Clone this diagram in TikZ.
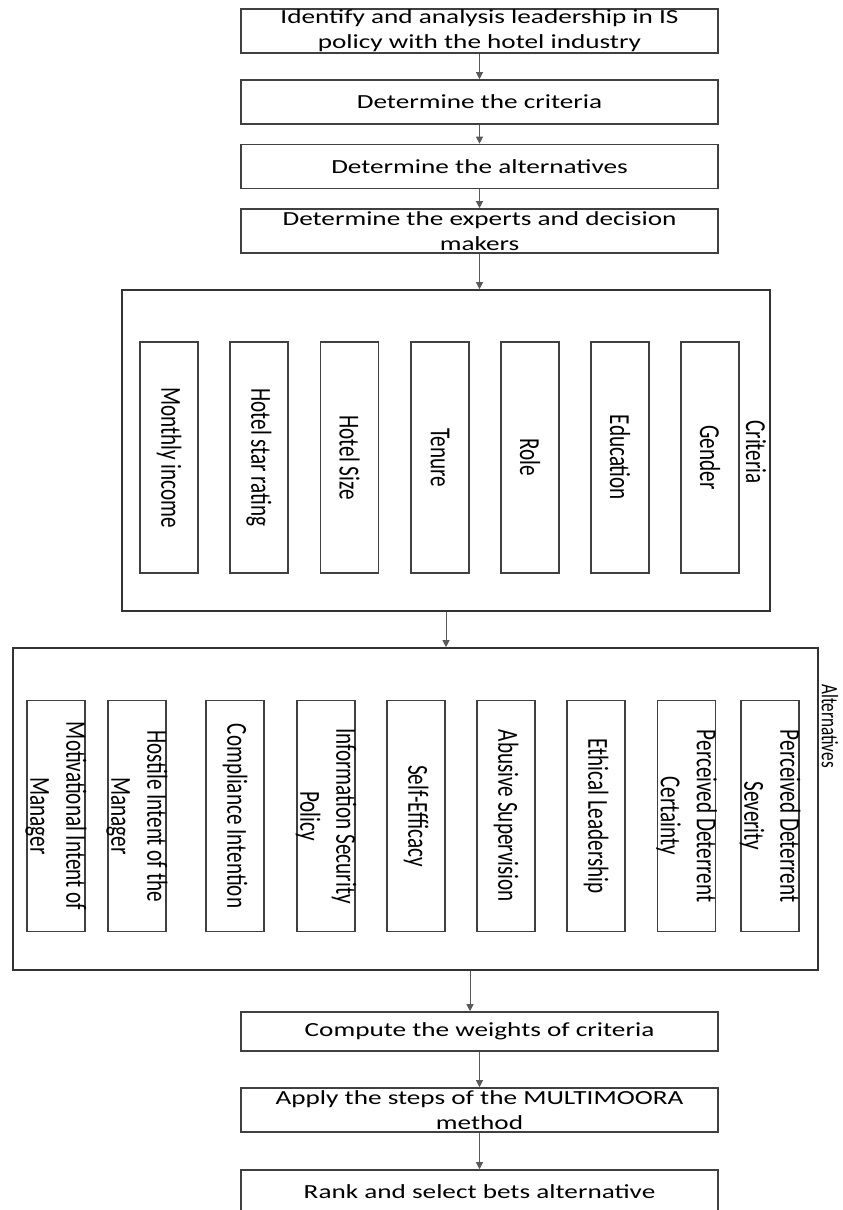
\documentclass[tikz,border=0pt]{standalone}
\usepackage{fontspec}
\setmainfont{Carlito}
\newfontfamily\widefont[FakeStretch=1.36]{Carlito}
\newfontfamily\tallfont[FakeStretch=0.73]{Carlito}
\usetikzlibrary{arrows.meta}

\begin{document}
\begin{tikzpicture}[x=1pt,y=-1pt,>={Triangle[width=7pt,length=7pt]},
  stepbox/.style={draw=black!75,line width=1.6pt,minimum width=477pt,minimum height=44pt,
    inner sep=0pt,align=center,font=\widefont\fontsize{20}{25}\selectfont},
  groupbox/.style={draw=black!80,line width=1.6pt,inner sep=0pt},
  itembox/.style={draw=black!75,line width=1.6pt,minimum width=58pt,minimum height=231pt,inner sep=0pt},
  itemtext/.style={rotate=-90,align=center,inner sep=0pt,font=\tallfont\fontsize{29}{36}\selectfont},
  link/.style={->,draw=black!65,line width=1pt}]
  \clip (0,0) rectangle (843,1210);
  % preparation steps
  \node[stepbox] (s1) at (479.5,31) {Identify and analysis leadership in IS\\policy with the hotel industry};
  \node[stepbox] (s2) at (479.5,102) {Determine the criteria};
  \node[stepbox] (s3) at (479.5,166.5) {Determine the alternatives};
  \node[stepbox] (s4) at (479.5,231) {Determine the experts and decision\\makers};
  % criteria group
  \node[groupbox,minimum width=648pt,minimum height=321pt] (crit) at (446,450.5) {};
  \foreach \x/\lab [count=\i] in {169/Monthly income, 259/Hotel star rating, 349.5/Hotel Size,
                                  440/Tenure, 530/Role, 620/Education, 710/Gender} {
    \node[itembox] (crit\i) at (\x,457.5) {};
    \node[itemtext] (critlab\i) at (crit\i) {\lab};
  }
  \node[itemtext] (critname) at (756,452) {Criteria};
  % alternatives group
  \node[groupbox,minimum width=805pt,minimum height=322pt] (alt) at (415.5,809) {};
  \foreach \x/\lab [count=\i] in {56/{Motivational Intent of\\Manager}, 137/{Hostile Intent of the\\Manager},
                                  235/Compliance Intention, 326/{Information Security\\Policy},
                                  416/Self-Efficacy, 506/Abusive Supervision, 596/Ethical Leadership,
                                  686.5/{Perceived Deterrent\\Certainty}, 770/{Perceived Deterrent\\Severity}} {
    \node[itembox] (alt\i) at (\x,816) {};
    \node[itemtext] (altlab\i) at (alt\i) {\lab};
  }
  \node[itemtext,font=\tallfont\fontsize{23.5}{28}\selectfont] (altname) at (830,726) {Alternatives};
  % ranking steps
  \node[stepbox,minimum height=39pt] (s5) at (479.5,1031.5) {Compute the weights of criteria};
  \node[stepbox] (s6) at (479.5,1110) {Apply the steps of the MULTIMOORA\\method};
  \node[stepbox] (s7) at (479.5,1192) {Rank and select bets alternative};
  % arrows
  \draw[link] (s1) -- (s2);
  \draw[link] (s2) -- (s3);
  \draw[link] (s3) -- (s4);
  \draw[link] (s4.south) -- (s4.south |- crit.north);
  \draw[link] (crit.south) -- (crit.south |- alt.north);
  \draw[link] ([xshift=-9.5pt]s5.north |- alt.south) -- ([xshift=-9.5pt]s5.north);
  \draw[link] (s5) -- (s6);
  \draw[link] (s6) -- (s7);
\end{tikzpicture}
\end{document}
